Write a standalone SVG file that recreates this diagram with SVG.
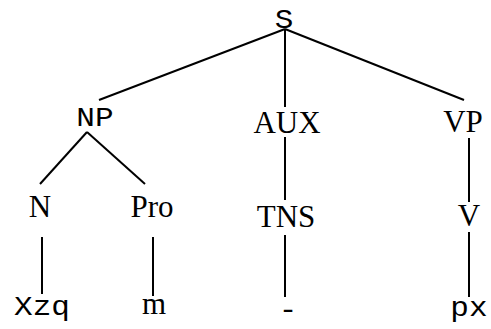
<svg xmlns="http://www.w3.org/2000/svg" width="491" height="329" viewBox="0 0 491 329">
  <style>
    .edge { stroke: #000; stroke-width: 2; fill: none; }
    .mono { font-family: "Liberation Mono", "Courier New", monospace; font-size: 27px; fill: #000; text-anchor: middle; }
    .serif { font-family: "Liberation Serif", "Times New Roman", serif; font-size: 31px; fill: #000; text-anchor: middle; }
  </style>
  <rect width="491" height="329" fill="#fff"/>

  <!-- tree branches -->
  <g id="edges">
    <line class="edge" x1="285" y1="29" x2="99" y2="100"/>
    <line class="edge" x1="285" y1="29" x2="285" y2="107"/>
    <line class="edge" x1="285" y1="29" x2="464" y2="100"/>
    <line class="edge" x1="87" y1="132" x2="40" y2="184"/>
    <line class="edge" x1="87" y1="132" x2="145" y2="184"/>
    <line class="edge" x1="285" y1="137" x2="285" y2="200"/>
    <line class="edge" x1="469" y1="138" x2="469" y2="202"/>
    <line class="edge" x1="42" y1="237" x2="42" y2="294"/>
    <line class="edge" x1="153" y1="237" x2="153" y2="296"/>
    <line class="edge" x1="285" y1="235" x2="285" y2="297"/>
    <line class="edge" x1="469" y1="232" x2="469" y2="297"/>
  </g>

  <!-- nodes (monospace labels are widened to a Courier-like cell) -->
  <g id="node-S"><text class="mono" transform="translate(284,28) scale(1.15,1)">S</text></g>
  <g id="node-NP"><text class="mono" transform="translate(95,126) scale(1.15,1)">NP</text></g>
  <g id="node-AUX"><text class="serif" x="287" y="133">AUX</text></g>
  <g id="node-VP"><text class="serif" x="463" y="132">VP</text></g>
  <g id="node-N"><text class="serif" x="40" y="217">N</text></g>
  <g id="node-Pro"><text class="serif" x="152" y="217">Pro</text></g>
  <g id="node-TNS"><text class="serif" x="286" y="227">TNS</text></g>
  <g id="node-V"><text class="serif" x="469" y="226">V</text></g>
  <g id="node-Xzq"><text class="mono" transform="translate(42,315) scale(1.15,1)">Xzq</text></g>
  <g id="node-m"><text class="serif" x="154" y="314">m</text></g>
  <g id="node-dash"><text class="mono" transform="translate(288,318) scale(1.15,1)">-</text></g>
  <g id="node-px"><text class="mono" transform="translate(469,316) scale(1.15,1)">px</text></g>
</svg>
